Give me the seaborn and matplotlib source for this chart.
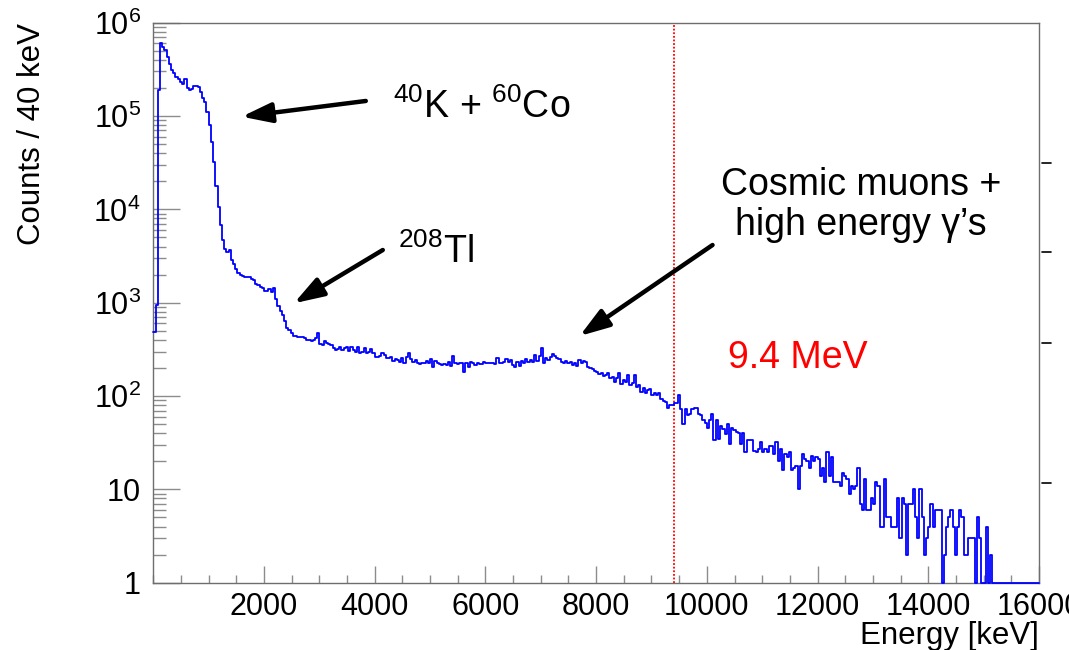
import numpy as np
import pandas as pd
import matplotlib
matplotlib.use("Agg")
import matplotlib.pyplot as plt
import seaborn as sns
from matplotlib.ticker import FixedLocator, MultipleLocator, LogLocator, NullFormatter
from matplotlib.lines import Line2D

# ---------------- data (counts per 40 keV bin, 0 - 16000 keV) ----------------
BIN_WIDTH_KEV = 40
E_MIN_KEV, E_MAX_KEV = 0, 16000

counts_0_4000keV = [
    490, 944, 190000, 610000, 550000, 510000, 430000, 360000, 310000, 287000,
    264000, 250000, 233000, 220000, 247000, 198000, 190000, 195000, 208000, 210000,
    206000, 182000, 155000, 140000, 110000, 80000, 53000, 32000, 18000, 10700,
    6800, 4700, 3800, 3500, 3700, 2860, 2600, 2300, 2070, 2000,
    1950, 1900, 1880, 1900, 1800, 1750, 1600, 1550, 1490, 1450,
    1340, 1330, 1390, 1310, 1430, 1100, 930, 820, 740, 630,
    535, 505, 478, 435, 440, 428, 425, 432, 418, 400,
    395, 393, 400, 415, 470, 362, 353, 392, 372, 360,
    352, 325, 311, 317, 333, 311, 325, 338, 305, 333,
    311, 299, 333, 290, 299, 325, 290, 300, 316, 287,
]
counts_4000_8000keV = [
    262, 264, 270, 287, 275, 254, 258, 260, 240, 248,
    243, 234, 254, 228, 264, 287, 248, 234, 243, 224,
    220, 225, 228, 240, 224, 248, 206, 240, 228, 222,
    215, 220, 215, 234, 210, 268, 228, 220, 228, 228,
    182, 228, 206, 234, 224, 215, 228, 220, 220, 234,
    228, 224, 228, 224, 220, 254, 228, 228, 234, 248,
    234, 243, 215, 206, 233, 210, 240, 224, 248, 233,
    243, 233, 275, 238, 268, 330, 224, 255, 243, 260,
    280, 268, 255, 248, 233, 224, 240, 224, 233, 215,
    228, 210, 243, 224, 240, 233, 206, 198, 193, 187,
]
counts_8000_12000keV = [
    180, 172, 178, 164, 168, 178, 155, 161, 143, 155,
    175, 135, 149, 143, 168, 132, 137, 168, 126, 132,
    111, 121, 107, 116, 118, 102, 109, 102, 109, 94,
    89, 87, 74, 80, 81, 84, 84, 103, 72, 50,
    72, 62, 65, 73, 74, 74, 65, 62, 55, 51,
    45, 56, 64, 34, 56, 35, 48, 44, 39, 50,
    31, 45, 43, 41, 40, 31, 40, 25, 34, 34,
    34, 26, 25, 27, 32, 25, 27, 25, 29, 29,
    24, 32, 20, 27, 16, 24, 22, 25, 16, 17,
    18, 10, 18, 24, 21, 20, 17, 23, 20, 22,
]
counts_12000_16000keV = [
    21, 14, 17, 12, 25, 14, 22, 12, 12, 12,
    11, 15, 14, 13, 9, 11, 10, 11, 17, 7,
    6, 13, 6, 6, 8, 7, 12, 11, 4, 4,
    13, 5, 5, 4, 4, 4, 8, 3, 8, 7,
    2, 7, 7, 10, 5, 3, 10, 5, 2, 3,
    4, 7, 4, 6, 6, 6, 0, 2, 4, 5,
    6, 4, 2, 4, 6, 5, 2, 2, 3, 3,
    3, 0, 5, 3, 0, 0, 4, 0, 2, 0,
    0, 0, 0, 0, 0, 0, 0, 0, 0, 0,
    0, 0, 0, 0, 0, 0, 0, 0, 0, 0,
]

x_tick_values = [2000, 4000, 6000, 8000, 10000, 12000, 14000, 16000]
x_tick_labels = ["2000", "4000", "6000", "8000", "10000", "12000", "14000", "16000"]
y_tick_values = [1, 10, 100, 1000, 10000, 100000, 1000000]
y_tick_labels = ["1", "10", r"$\mathregular{10^{2}}$", r"$\mathregular{10^{3}}$",
                 r"$\mathregular{10^{4}}$", r"$\mathregular{10^{5}}$", r"$\mathregular{10^{6}}$"]

threshold_kev = 9400
threshold_label = "9.4 MeV"
x_label = "Energy [keV]"
y_label = "Counts / 40 keV"

# ---------------- style ----------------
sns.set_theme(style="white")
plt.rcParams["font.family"] = ["Liberation Sans", "DejaVu Sans"]
plt.rcParams["mathtext.fontset"] = "custom"
plt.rcParams["mathtext.rm"] = "Liberation Sans"
plt.rcParams["mathtext.it"] = "Liberation Sans:italic"
plt.rcParams["mathtext.bf"] = "Liberation Sans:bold"
plt.rcParams["text.color"] = "black"
plt.rcParams["axes.labelcolor"] = "black"

counts = np.array(counts_0_4000keV + counts_4000_8000keV + counts_8000_12000keV
                  + counts_12000_16000keV, dtype=float)
centers = np.arange(E_MIN_KEV, E_MAX_KEV, BIN_WIDTH_KEV) + BIN_WIDTH_KEV / 2
# empty bins are drawn on the bottom of the frame, as ROOT does on a log axis
shown = np.where(counts > 0, counts, 1.0)
df = pd.DataFrame({"energy": centers, "counts": shown})

fig = plt.figure(figsize=(10.69, 6.5), dpi=100)
ax = fig.add_axes([0.1434, 0.1035, 0.8285, 0.8616])

sns.histplot(data=df, x="energy", weights="counts", binwidth=BIN_WIDTH_KEV,
             binrange=(E_MIN_KEV, E_MAX_KEV), element="step",
             fill=False, color="#0000ff", linewidth=1.3, ax=ax, clip_on=False, zorder=3)
ax.set_yscale("log")
ax.set_xlim(E_MIN_KEV, E_MAX_KEV)
ax.set_ylim(1, 1e6)

ax.axvline(threshold_kev, color="#ff0000", linestyle=(0, (1, 1)), linewidth=1.3, zorder=2)

# ticks ROOT style
ax.xaxis.set_major_locator(FixedLocator(x_tick_values))
ax.set_xticklabels(x_tick_labels)
ax.xaxis.set_minor_locator(MultipleLocator(500))
ax.yaxis.set_major_locator(FixedLocator(y_tick_values))
ax.set_yticklabels(y_tick_labels)
ax.yaxis.set_minor_locator(LogLocator(base=10, subs=np.arange(2, 10), numticks=100))
ax.yaxis.set_minor_formatter(NullFormatter())
ax.tick_params(axis="both", which="both", direction="in", color="#8c8c8c",
               labelcolor="black", width=1.0, top=False, right=False,
               bottom=True, left=True)
ax.tick_params(axis="y", which="major", length=19.2, pad=9, labelsize=22)
ax.tick_params(axis="y", which="minor", length=9.6)
ax.tick_params(axis="x", which="major", length=12.1, pad=7, labelsize=22)
ax.tick_params(axis="x", which="minor", length=6)
for s in ax.spines.values():
    s.set_visible(True)
    s.set_color("#6e6e6e")
    s.set_linewidth(1.0)

ax.set_xlabel(x_label, fontsize=22.5, ha="right", va="top", color="black")
ax.xaxis.set_label_coords(1.0, -0.069)
ax.set_ylabel(y_label, fontsize=22.5, ha="right", va="bottom", color="black")
ax.yaxis.set_label_coords(-0.12, 1.0)

# annotations
arrow_kw = dict(arrowstyle="-|>,head_length=1.5,head_width=0.5", color="black",
                lw=3.2, mutation_scale=12, shrinkA=0, shrinkB=0)
ax.annotate("", xy=(1596, 9.84e4), xytext=(3839, 1.45e5), arrowprops=arrow_kw)
ax.annotate("", xy=(2540, 985), xytext=(4146, 3670), arrowprops=arrow_kw)
ax.annotate("", xy=(7702, 440), xytext=(10103, 4150), arrowprops=arrow_kw)

ax.text(0.2707, 0.8304, r"$^{40}$K + $^{60}$Co", transform=ax.transAxes,
        fontsize=27, ha="left", va="baseline", color="black")
ax.text(0.2763, 0.5709, r"$^{208}$Tl", transform=ax.transAxes,
        fontsize=27, ha="left", va="baseline", color="black")
ax.text(0.799, 0.674, "Cosmic muons +\nhigh energy \u03b3\u2019s", transform=ax.transAxes,
        fontsize=27, ha="center", va="center", multialignment="center",
        linespacing=1.15, color="black")
ax.text(0.649, 0.3834, threshold_label, transform=ax.transAxes, fontsize=27,
        color="#ff0000", ha="left", va="baseline")

# edge of the neighbouring panel visible on the right
for ypix in [163, 252, 343, 483]:
    fig.add_artist(Line2D([1042 / 1069, 1051 / 1069], [1 - ypix / 650, 1 - ypix / 650],
                          transform=fig.transFigure, color="black", lw=1.2))

fig.savefig("out.png", dpi=100)
